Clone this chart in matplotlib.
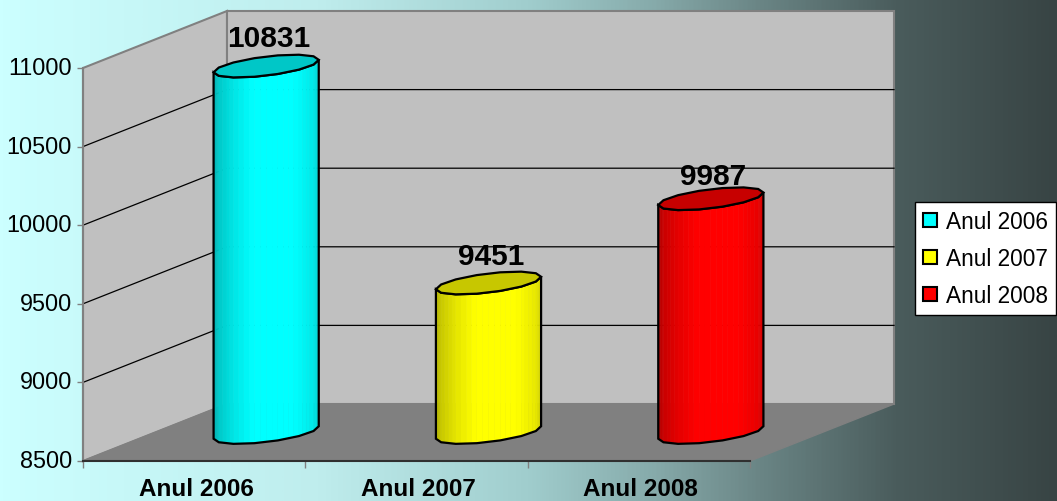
import numpy as np
import matplotlib
matplotlib.use("Agg")
import matplotlib.pyplot as plt
from matplotlib.colors import LinearSegmentedColormap
from matplotlib.patches import Patch, Polygon
from matplotlib.transforms import ScaledTranslation

categories = ["Anul 2006", "Anul 2007", "Anul 2008"]
values = [10831, 9451, 9987]
colors = ["#00FFFF", "#FFFF00", "#FF0000"]
y_ticks = [8500, 9000, 9500, 10000, 10500, 11000]
label_offsets = [20.3, 19.6, 16.7]

W, H = 1057, 502
plt.rcParams["font.family"] = ["Liberation Sans", "DejaVu Sans"]
fig = plt.figure(figsize=(W / 100, H / 100), dpi=100)

# background gradient
bg = fig.add_axes([0, 0, 1, 1], zorder=0)
cmap = LinearSegmentedColormap.from_list("bg", [
    (0.0, "#CCFFFF"), (0.30, "#BFEDED"), (0.50, "#A0CDCD"), (0.62, "#86AAAA"),
    (0.72, "#6A8585"), (0.85, "#4A5C5C"), (1.0, "#384444")])
bg.imshow(np.linspace(0, 1, 512).reshape(1, -1), aspect="auto", cmap=cmap, vmin=0, vmax=1)
bg.axis("off")

# front plane of the pseudo 3D box
ax = fig.add_axes([83 / W, 1 - 462 / H, 667 / W, 393 / H], zorder=1)
ax.patch.set_alpha(0)
ax.set_xlim(-0.5, 2.5)
ax.set_ylim(8500, 11000)
x0, x1 = ax.get_xlim()
y0, y1 = ax.get_ylim()
DX = 144 / (667 / 3)
DY = 57 / (393 / 2500)


def proj(x, y, d):
    return (x + d * DX, y + d * DY)


GRAY = "#808080"
ax.add_patch(Polygon([proj(x0, y0, 0), proj(x0, y1, 0), proj(x0, y1, 1), proj(x0, y0, 1)],
                     fc="#C0C0C0", ec=GRAY, lw=1.5, zorder=1, clip_on=False))
ax.add_patch(Polygon([proj(x0, y0, 1), proj(x0, y1, 1), proj(x1, y1, 1), proj(x1, y0, 1)],
                     fc="#C0C0C0", ec=GRAY, lw=1.5, zorder=1, clip_on=False))
ax.add_patch(Polygon([proj(x0, y0, 0), proj(x1, y0, 0), proj(x1, y0, 1), proj(x0, y0, 1)],
                     fc="#808080", ec=GRAY, lw=1, zorder=1.5, clip_on=False))
for t in y_ticks[1:-1]:
    pts = [proj(x0, t, 0), proj(x0, t, 1), proj(x1, t, 1)]
    ax.plot(*zip(*pts), color="#000000", lw=0.9, zorder=2, clip_on=False)

# faceted cylinders
R = 44 / (667 / 3)
DEPTH = 0.2
t_side = np.arctan2(DEPTH * 144, 44)
angles = t_side + np.linspace(0, 2 * np.pi, 15)[:-1]


def ring(cat, val, ts):
    xs = cat + 0.5 * DX + R * np.cos(ts) + DEPTH * DX * np.sin(ts)
    ys = val + 0.5 * DY + DEPTH * DY * np.sin(ts)
    return xs, ys


def shade(col, f):
    return np.array(matplotlib.colors.to_rgb(col)) * f


for i, (v, col) in enumerate(zip(values, colors)):
    # front half, left extreme to right extreme, 7 facets
    coarse = t_side + np.pi + np.linspace(0, np.pi, 8)
    cxb, cyb = ring(i, y0, coarse)
    cxt, cyt = ring(i, v, coarse)
    idx = np.arange(len(coarse))
    fine = np.linspace(0, len(coarse) - 1, 29)
    xb = np.interp(fine, idx, cxb)
    yb = np.interp(fine, idx, cyb)
    xt = np.interp(fine, idx, cxt)
    yt = np.interp(fine, idx, cyt)
    n = len(fine) - 1
    for k in range(n):
        u = k / (n - 1)
        f = np.interp(u, [0, 0.15, 0.42, 0.68, 1], [0.70, 0.80, 1.0, 1.0, 0.85])
        ax.add_patch(Polygon([(xb[k], yb[k]), (xb[k + 1], yb[k + 1]),
                              (xt[k + 1], yt[k + 1]), (xt[k], yt[k])],
                             fc=shade(col, f), ec=shade(col, f), lw=0.4,
                             zorder=3 + i, clip_on=False))
    outline = list(zip(cxb, cyb)) + list(zip(cxt[::-1], cyt[::-1]))
    ax.add_patch(Polygon(outline, fc="none", ec="black", lw=1.6, zorder=3.5 + i, clip_on=False))
    xa, ya = ring(i, v, angles)
    ax.add_patch(Polygon(list(zip(xa, ya)), fc=shade(col, 0.78), ec="black", lw=1.6,
                         zorder=3.6 + i, clip_on=False))
    ax.annotate(str(v), xy=proj(i, v, 0.5), xytext=(2, label_offsets[i]), textcoords="offset points",
                ha="center", va="center", fontsize=21.5, fontweight="bold", color="black",
                zorder=10, annotation_clip=False)

# axes furniture
ax.set_yticks(y_ticks)
ax.set_yticklabels([str(t) for t in y_ticks], fontsize=16.8, color="black")
ax.set_xticks([-0.5, 0.5, 1.5, 2.5])
ax.set_xticklabels([])
ax.set_xticks([0, 1, 2], minor=True)
ax.set_xticklabels(categories, minor=True, fontsize=17.5, fontweight="bold", color="black")
ax.tick_params(axis="x", which="minor", length=0, pad=11.3)
ax.tick_params(axis="x", which="major", length=5, width=1, color=GRAY)
ax.tick_params(axis="y", length=4, width=1, color=GRAY, pad=4)
for lab in ax.get_yticklabels():
    lab.set_transform(lab.get_transform() + ScaledTranslation(0, 3 / 100, fig.dpi_scale_trans))
for lab in ax.get_xticklabels(minor=True):
    lab.set_transform(lab.get_transform() + ScaledTranslation(2 / 100, 0, fig.dpi_scale_trans))
for s in ["top", "right"]:
    ax.spines[s].set_visible(False)
ax.spines["left"].set_color(GRAY)
ax.spines["left"].set_linewidth(1.5)
ax.spines["bottom"].set_color("#303030")
ax.spines["bottom"].set_linewidth(1.5)
ax.spines["bottom"].set_zorder(2.5)

handles = [Patch(fc=c, ec="black", lw=1.5) for c in colors]
leg = fig.legend(handles, categories, loc="center", bbox_to_anchor=(985.5 / W, 1 - 259.5 / H),
                 fontsize=16.3, frameon=True, fancybox=False, edgecolor="black", facecolor="white",
                 framealpha=1, handlelength=0.6, handleheight=0.6, handletextpad=0.4,
                 labelspacing=0.62, borderpad=0.35, borderaxespad=0)
leg.get_frame().set_linewidth(1)
leg.set_zorder(20)

fig.savefig("out.png", dpi=100)
